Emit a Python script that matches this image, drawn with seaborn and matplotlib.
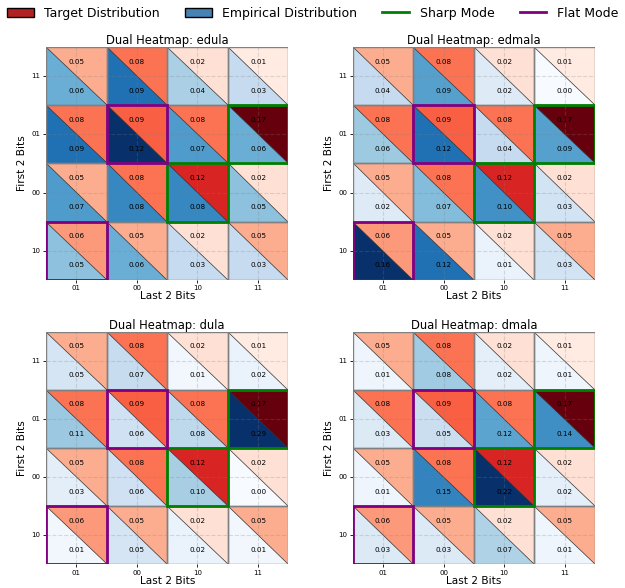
import numpy as np
import pandas as pd
import seaborn as sns
import matplotlib.pyplot as plt
from matplotlib.patches import Polygon, Rectangle, Patch
from matplotlib.lines import Line2D
from matplotlib import colors as mcolors

# Bit-string labels: rows run top to bottom, columns left to right
row_labels = ["11", "01", "00", "10"]
col_labels = ["01", "00", "10", "11"]

# Target distribution (same for every sampler)
target = [
    [0.05, 0.08, 0.02, 0.01],
    [0.08, 0.09, 0.08, 0.17],
    [0.05, 0.08, 0.12, 0.02],
    [0.06, 0.05, 0.02, 0.05],
]

# Empirical distributions per sampler
emp_edula = [
    [0.06, 0.09, 0.04, 0.03],
    [0.09, 0.12, 0.07, 0.06],
    [0.07, 0.08, 0.08, 0.05],
    [0.05, 0.06, 0.03, 0.03],
]
emp_edmala = [
    [0.04, 0.09, 0.02, 0.00],
    [0.06, 0.12, 0.04, 0.09],
    [0.02, 0.07, 0.10, 0.03],
    [0.16, 0.12, 0.01, 0.03],
]
emp_dula = [
    [0.05, 0.07, 0.01, 0.02],
    [0.11, 0.06, 0.08, 0.29],
    [0.03, 0.06, 0.10, 0.00],
    [0.01, 0.05, 0.02, 0.01],
]
emp_dmala = [
    [0.01, 0.08, 0.02, 0.01],
    [0.03, 0.05, 0.12, 0.14],
    [0.01, 0.15, 0.22, 0.02],
    [0.03, 0.03, 0.07, 0.01],
]

samplers = ["edula", "edmala", "dula", "dmala"]
empiricals = [emp_edula, emp_edmala, emp_dula, emp_dmala]

# Mode cells as (row, col) indices
sharp_modes = [(1, 3), (2, 2)]
flat_modes = [(1, 1), (3, 0)]

fig, axes = plt.subplots(2, 2, figsize=(6.25, 5.88), dpi=100)
fig.subplots_adjust(left=0.0736, right=0.952, top=0.920, bottom=0.040,
                    wspace=0.265, hspace=0.223)

tgt = np.array(target)
reds = plt.get_cmap("Reds")
red_norm = mcolors.Normalize(vmin=0, vmax=tgt.max())

for ax, name, emp in zip(axes.flat, samplers, empiricals):
    emp_df = pd.DataFrame(emp, index=row_labels, columns=col_labels)
    # Lower-left triangles: empirical distribution as a full-cell heatmap
    sns.heatmap(emp_df, ax=ax, cmap="Blues", vmin=0, vmax=emp_df.values.max(),
                cbar=False, annot=False)
    n_rows, n_cols = emp_df.shape
    for i in range(n_rows):
        for j in range(n_cols):
            # Upper-right triangle: target distribution
            tri = Polygon([(j, i), (j + 1, i), (j + 1, i + 1)], closed=True,
                          facecolor=reds(red_norm(tgt[i, j])),
                          edgecolor="#333333", linewidth=0.5, zorder=2)
            ax.add_patch(tri)
            ax.add_patch(Rectangle((j, i), 1, 1, fill=False, edgecolor="gray",
                                   linewidth=1.0, zorder=3))
            ax.text(j + 0.5, i + 0.25, f"{tgt[i, j]:.2f}", ha="center",
                    va="center", fontsize=5.2, color="black", zorder=5)
            ax.text(j + 0.5, i + 0.75, f"{emp_df.values[i, j]:.2f}", ha="center",
                    va="center", fontsize=5.2, color="black", zorder=5)
    for (i, j) in sharp_modes:
        ax.add_patch(Rectangle((j, i), 1, 1, fill=False, edgecolor="green",
                               linewidth=2, zorder=4))
    for (i, j) in flat_modes:
        ax.add_patch(Rectangle((j, i), 1, 1, fill=False, edgecolor="purple",
                               linewidth=2, zorder=4))
    ax.set_axisbelow(False)
    ax.grid(True, linestyle="--", color="gray", alpha=0.25, linewidth=0.8)
    ax.tick_params(axis="both", labelsize=5, length=2.5, width=0.6, pad=1.5)
    ax.set_yticklabels(row_labels, rotation=0)
    ax.set_xticklabels(col_labels, rotation=0)
    ax.set_title(f"Dual Heatmap: {name}", fontsize=8.3, pad=2)
    ax.set_xlabel("Last 2 Bits", fontsize=7.6, labelpad=0)
    ax.set_ylabel("First 2 Bits", fontsize=7.6, labelpad=3)

handles = [
    Patch(facecolor="#b22222", edgecolor="black", label="Target Distribution"),
    Patch(facecolor="steelblue", edgecolor="black", label="Empirical Distribution"),
    Line2D([0], [0], color="green", linewidth=2, label="Sharp Mode"),
    Line2D([0], [0], color="purple", linewidth=2, label="Flat Mode"),
]
fig.legend(handles=handles, loc="upper center", bbox_to_anchor=(0.5, 1.008),
           ncol=4, frameon=False, fontsize=9, columnspacing=2.0,
           handlelength=2.15, handletextpad=0.85)

fig.savefig("out.png", dpi=100)
